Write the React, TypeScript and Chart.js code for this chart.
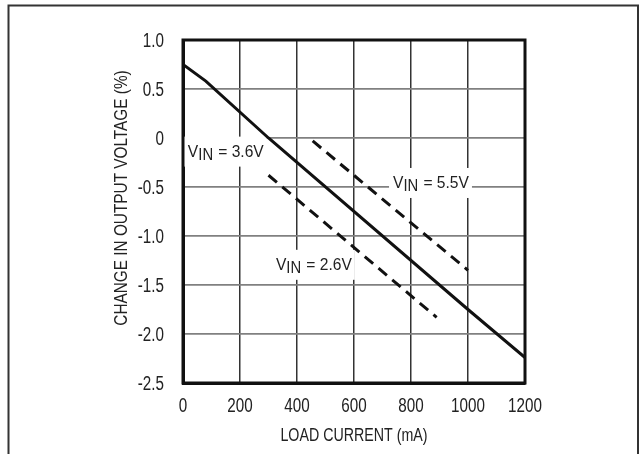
import React, { useEffect, useRef } from "react";
import { Chart, registerables } from "chart.js";

Chart.register(...registerables);

// Load current (mA) and change in output voltage (%)
const current36 = [0, 80, 300, 1000, 1200];
const change36 = [0.75, 0.58, 0, -1.75, -2.24];

const current55 = [455, 1000];
const change55 = [-0.03, -1.35];

const current26 = [300, 890];
const change26 = [-0.38, -1.83];

const xTickLabels = ["0", "200", "400", "600", "800", "1000", "1200"];
const yTickLabels = ["-2.5", "-2.0", "-1.5", "-1.0", "-0.5", "0", "0.5", "1.0"];

const xTitle = "LOAD CURRENT (mA)";
const yTitle = "CHANGE IN OUTPUT VOLTAGE (%)";

// curve labels: anchor in data units (left edge x, text baseline y)
const curveLabelNames = ["3.6V", "5.5V", "2.6V"];
const curveLabelX = [17, 737, 326];
const curveLabelY = [-0.19, -0.51, -1.345];

const FONT = "'Liberation Sans', Arial, sans-serif";
const TEXT = "#222";

function toPoints(xs: number[], ys: number[]) {
  return xs.map((x, i) => ({ x, y: ys[i] }));
}

// draw horizontally-condensed text; align: left | center | right
function condensed(ctx: any, text: string, x: number, y: number, size: number, sx: number, align: string) {
  ctx.save();
  ctx.font = `${size}px ${FONT}`;
  ctx.textBaseline = "alphabetic";
  ctx.textAlign = "left";
  const w = ctx.measureText(text).width * sx;
  let left = x;
  if (align === "center") left = x - w / 2;
  else if (align === "right") left = x - w;
  ctx.translate(left, y);
  ctx.scale(sx, 1);
  ctx.fillStyle = TEXT;
  ctx.fillText(text, 0, 0);
  ctx.restore();
  return w;
}

const decorPlugin = {
  id: "decor",
  beforeDraw(chart: any) {
    const ctx = chart.ctx;
    ctx.save();
    ctx.fillStyle = "#fff";
    ctx.fillRect(0, 0, chart.width, chart.height);
    ctx.restore();
  },
  beforeDatasetsDraw(chart: any) {
    const ctx = chart.ctx;
    const xs = chart.scales.x;
    const ys = chart.scales.y;
    const size = 16.8;
    const sx = 0.93;
    for (let i = 0; i < curveLabelNames.length; i++) {
      const px = xs.getPixelForValue(curveLabelX[i]);
      const py = ys.getPixelForValue(curveLabelY[i]);
      ctx.save();
      ctx.font = `${size}px ${FONT}`;
      const wV = ctx.measureText("V").width * sx;
      const wIN = ctx.measureText("IN").width * sx;
      const rest = " = " + curveLabelNames[i];
      const wR = ctx.measureText(rest).width * sx;
      const total = wV + wIN + wR;
      ctx.fillStyle = "#fff";
      ctx.fillRect(px - 4, py - 20, total + 7, 30);
      ctx.restore();
      condensed(ctx, "V", px, py, size, sx, "left");
      condensed(ctx, "IN", px + wV, py + 3, size * 0.95, sx, "left");
      condensed(ctx, rest, px + wV + wIN, py, size, sx, "left");
    }
  },
  afterDraw(chart: any) {
    const ctx = chart.ctx;
    const a = chart.chartArea;
    const xs = chart.scales.x;
    const ys = chart.scales.y;
    ctx.save();
    ctx.strokeStyle = "#111";
    ctx.lineWidth = 3;
    ctx.strokeRect(a.left, a.top, a.right - a.left, a.bottom - a.top);
    ctx.strokeStyle = "#333";
    ctx.lineWidth = 2;
    ctx.strokeRect(8.5, 5.5, 629.5, 600);
    ctx.restore();

    // tick labels from the library's ticks
    xs.ticks.forEach((t: any, i: number) => {
      const px = xs.getPixelForValue(t.value);
      condensed(ctx, xTickLabels[i], px, a.bottom + 29, 19.5, 0.78, "center");
    });
    ys.ticks.forEach((t: any, i: number) => {
      const py = ys.getPixelForValue(t.value);
      condensed(ctx, yTickLabels[i], a.left - 19, py + 7, 19.5, 0.78, "right");
    });

    // axis titles
    condensed(ctx, xTitle, (a.left + a.right) / 2, 441, 18.5, 0.77, "center");
    ctx.save();
    ctx.translate(127, 198);
    ctx.rotate(-Math.PI / 2);
    condensed(ctx, yTitle, 0, 0, 18.5, 0.83, "center");
    ctx.restore();
  },
};

export default function App() {
  const ref = useRef<HTMLCanvasElement>(null);
  useEffect(() => {
    document.body.style.overflow = "hidden";
    const lineStyle = { borderColor: "#111", borderWidth: 3, pointRadius: 0, fill: false, tension: 0 };
    const chart = new Chart(ref.current!, {
      type: "scatter",
      data: {
        datasets: [
          { label: "VIN = 3.6V", data: toPoints(current36, change36), showLine: true, ...lineStyle },
          { label: "VIN = 5.5V", data: toPoints(current55, change55), showLine: true, borderDash: [11, 7], ...lineStyle },
          { label: "VIN = 2.6V", data: toPoints(current26, change26), showLine: true, borderDash: [11, 7], ...lineStyle },
        ],
      },
      options: {
        responsive: false,
        animation: false,
        events: [],
        layout: { padding: { left: 0, top: 40, right: 116, bottom: 0 } },
        plugins: { legend: { display: false }, tooltip: { enabled: false } },
        scales: {
          x: {
            type: "linear",
            min: 0,
            max: 1200,
            afterFit: (s: any) => { s.height = 71; },
            ticks: {
              stepSize: 200,
              color: "rgba(0,0,0,0)",
              font: { family: FONT, size: 18 },
              maxRotation: 0,
            },
            grid: { color: "#333", lineWidth: 1.5, drawTicks: false },
            border: { display: true, color: "#111", width: 3 },
          },
          y: {
            type: "linear",
            min: -2.5,
            max: 1.0,
            afterFit: (s: any) => { s.width = 183; },
            ticks: {
              stepSize: 0.5,
              color: "rgba(0,0,0,0)",
              font: { family: FONT, size: 18 },
            },
            grid: { color: "#808080", lineWidth: 1.8, drawTicks: false },
            border: { display: true, color: "#111", width: 3 },
          },
        },
      },
      plugins: [decorPlugin],
    } as any);
    return () => chart.destroy();
  }, []);
  return (
    <canvas
      ref={ref}
      width={641}
      height={454}
      style={{ position: "fixed", left: 0, top: 0, width: 641, height: 454 }}
    />
  );
}
